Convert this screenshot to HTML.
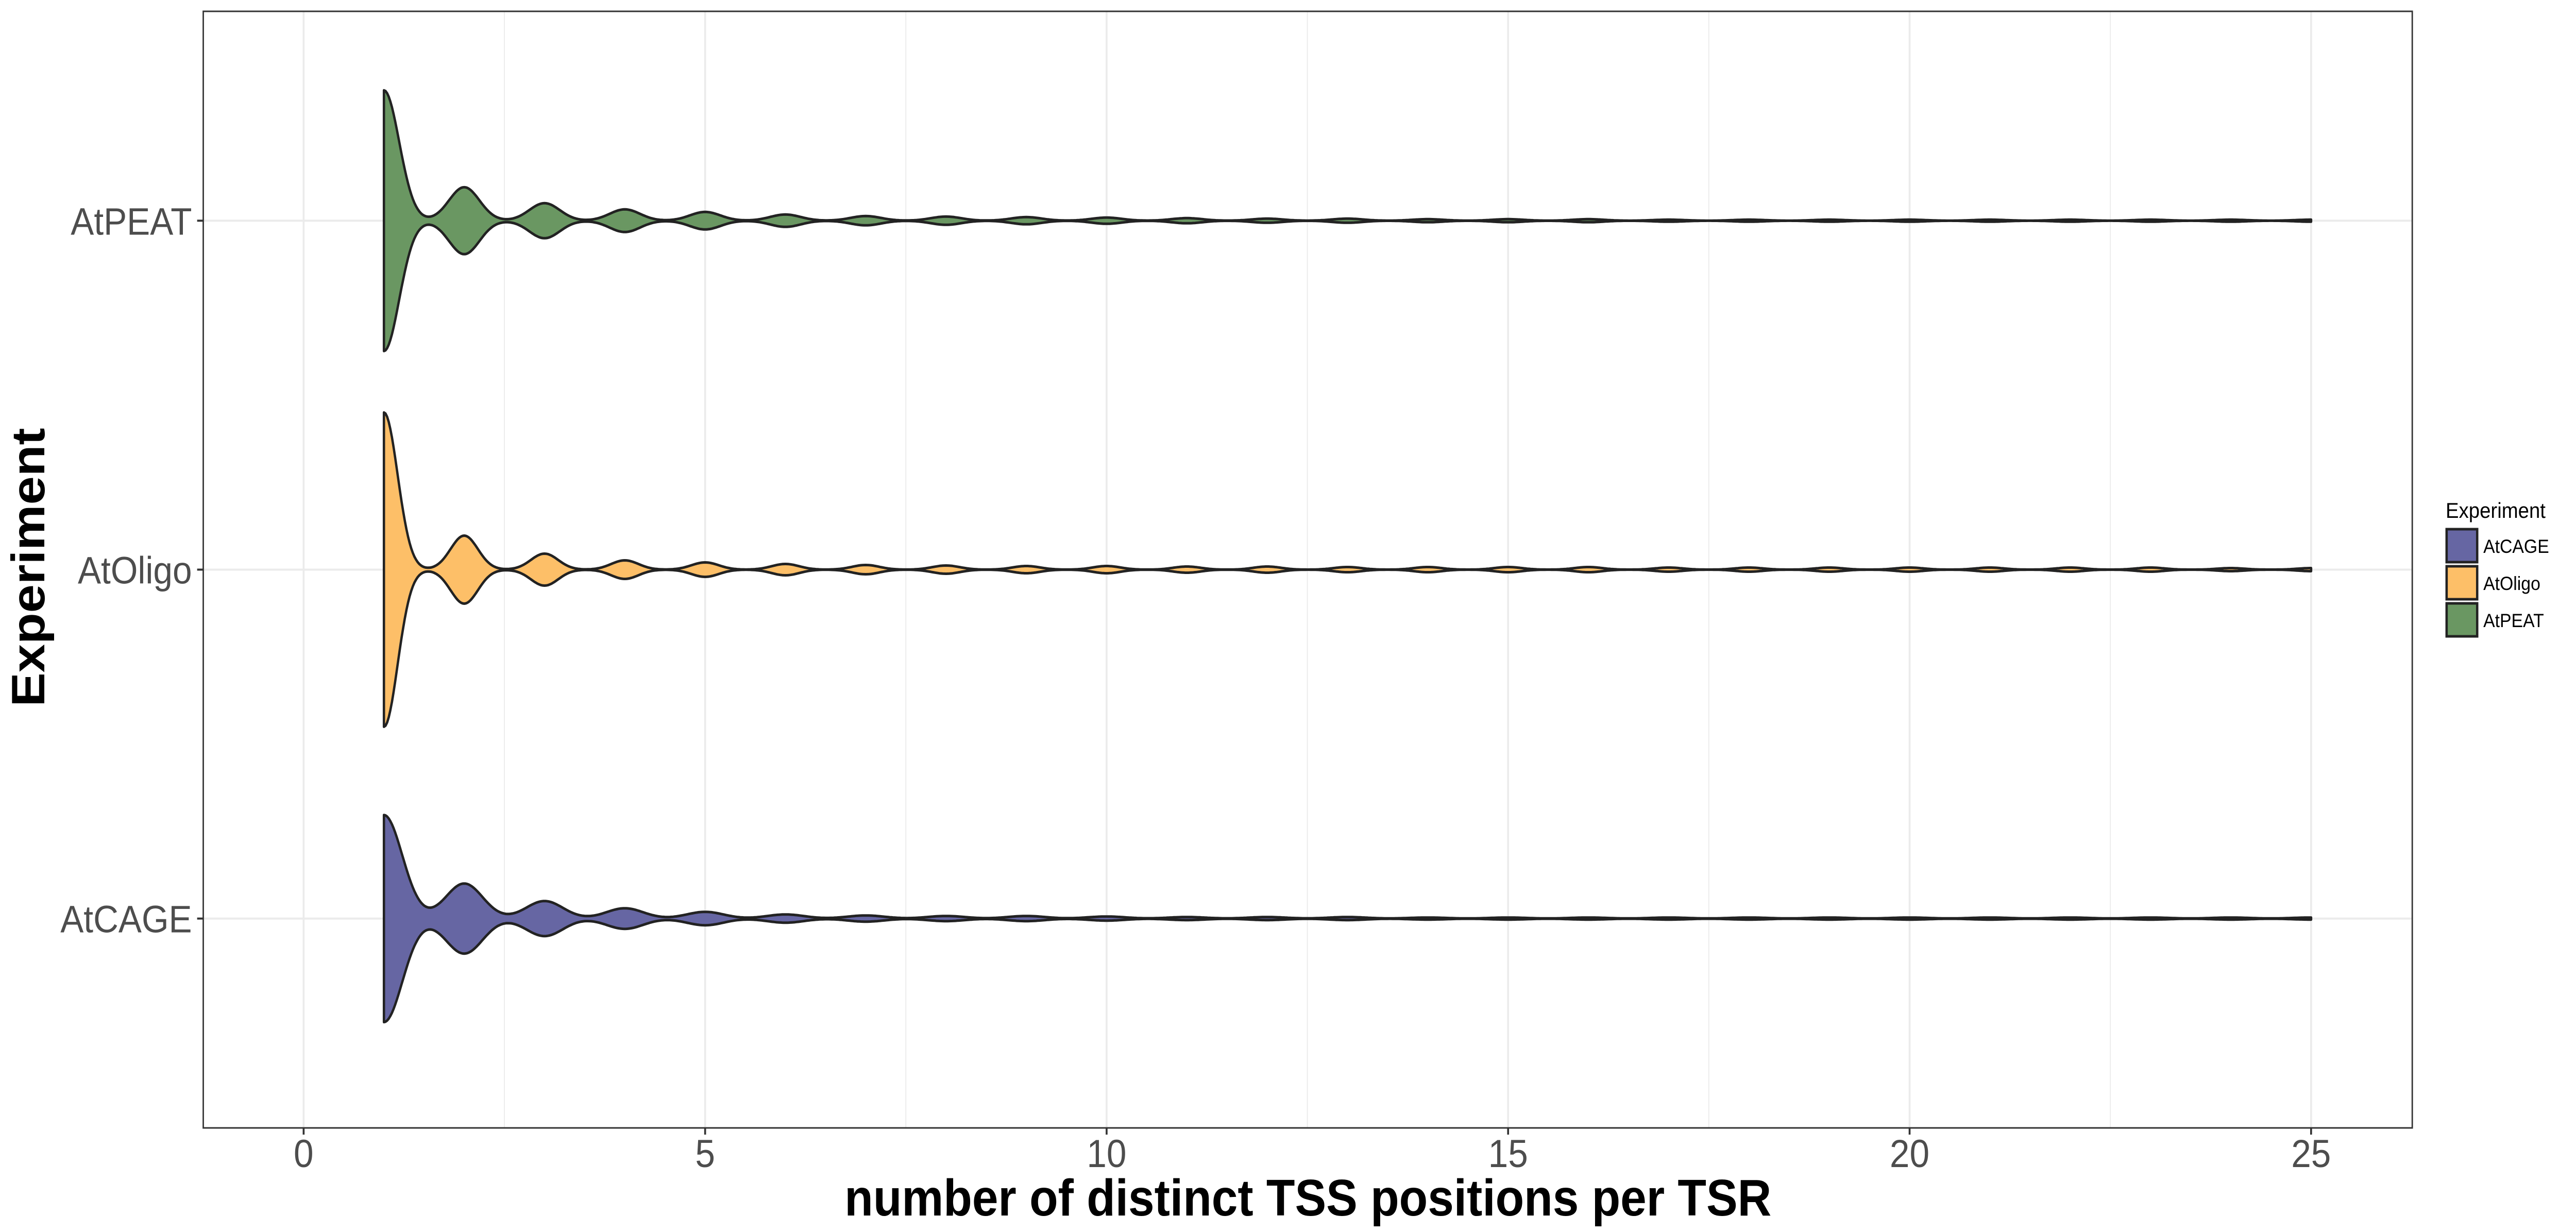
<!DOCTYPE html>
<html><head><meta charset="utf-8"><style>
html,body{margin:0;padding:0;background:#fff;width:100%;height:100%;overflow:hidden;}
svg{display:block;width:100vw;height:100vh;}
text{font-family:"Liberation Sans",Arial,sans-serif;}
</style></head><body>
<svg id="chart" viewBox="0 0 5475 2391" preserveAspectRatio="none" xmlns="http://www.w3.org/2000/svg">
<rect x="0" y="0" width="5475" height="2391" fill="#fff"/>
<g id="grid"></g>
<g id="violins"></g>
<rect x="432" y="22" width="4695" height="2167" fill="none" stroke="#333" stroke-width="3"/>
<g id="axes"></g>
<text x="2780" y="2359" text-anchor="middle" font-size="100" font-weight="bold" textLength="1970" lengthAdjust="spacingAndGlyphs" fill="#000">number of distinct TSS positions per TSR</text>
<text transform="translate(94,1101) rotate(-90)" text-anchor="middle" font-size="100" font-weight="bold" textLength="541" lengthAdjust="spacingAndGlyphs" fill="#000">Experiment</text>
<g id="legend">
<text x="5198" y="1005" font-size="42" fill="#000">Experiment</text>
</g>
</svg>
<script>
const categories = ["AtCAGE", "AtOligo", "AtPEAT"];
const colors = ["#6666A3", "#FDBF68", "#6A9762"];
const xTicks = [0, 5, 10, 15, 20, 25];
const xMinor = [2.5, 7.5, 12.5, 17.5, 22.5];
const positions = [1,2,3,4,5,6,7,8,9,10,11,12,13,14,15,16,17,18,19,20,21,22,23,24,25];
const densCAGE  = [201,68,34,20,13,8,6,5,5,4,3,3,3,2,2,2,2,2,2,2,2,2,2,2,2];
const densOligo = [305,66,31,18,14,11,9,8,7,7,6,6,5,5,5,5,4,4,4,4,4,4,4,3,3];
const densPEAT  = [253,65,34,22,17,12,9,8,7,6,5,4,4,3,3,3,2,2,2,2,2,2,2,2,2];
const bandwidths = [0.23, 0.17, 0.19];
const series = [densCAGE, densOligo, densPEAT];

const NS = "http://www.w3.org/2000/svg";
const PL = 432, PR = 5127, PT = 22, PB = 2189;
const XMIN = -1.25, XMAX = 26.26;
function xs(v){ return PL + (v - XMIN) / (XMAX - XMIN) * (PR - PL); }
function ys(i){
  const lo = 0.4, hi = 3.6, pos = i + 1;
  return PB - (pos - lo) / (hi - lo) * (PB - PT);
}
const maxDens = Math.max(...series.map(s => Math.max(...s)));
const halfMax = 305;
function mk(tag, attrs, parent){
  const e = document.createElementNS(NS, tag);
  for (const k in attrs) e.setAttribute(k, attrs[k]);
  parent.appendChild(e);
  return e;
}
const grid = document.getElementById('grid');
xMinor.forEach(v => {
  const l = mk('line', {x1: xs(v), x2: xs(v), y1: PT, y2: PB, stroke: '#ebebeb', 'stroke-width': 2}, grid);
  
  
});
xTicks.forEach(v => {
  const l = mk('line', {x1: xs(v), x2: xs(v), y1: PT, y2: PB, stroke: '#ebebeb', 'stroke-width': 4}, grid);
  
  
});
categories.forEach((c, i) => {
  const l = mk('line', {x1: PL, x2: PR, y1: ys(i), y2: ys(i), stroke: '#ebebeb', 'stroke-width': 4}, grid);
  
  
});

const vg = document.getElementById('violins');
const lo = positions[0], hi = positions[positions.length - 1];
series.forEach((dens, i) => {
  const bw = bandwidths[i];
  const cy = ys(i);
  const top = [], bot = [];
  const N = 1200;
  for (let k = 0; k <= N; k++) {
    const x = lo + (hi - lo) * k / N;
    let d = 0;
    positions.forEach((p, j) => { d += dens[j] * Math.exp(-((x - p) ** 2) / (2 * bw * bw)); });
    const w = d / maxDens * halfMax;
    top.push(xs(x).toFixed(1) + ',' + (cy - w).toFixed(1));
    bot.push(xs(x).toFixed(1) + ',' + (cy + w).toFixed(1));
  }
  const dPath = 'M' + top.join(' L') + ' L' + bot.reverse().join(' L') + ' Z';
  const p = mk('path', {d: dPath, fill: colors[i], stroke: '#222', 'stroke-width': 5, 'stroke-linejoin': 'round'}, vg);
  
  
});

const ax = document.getElementById('axes');
xTicks.forEach(v => {
  const t = mk('line', {x1: xs(v), x2: xs(v), y1: PB, y2: PB + 13, stroke: '#333', 'stroke-width': 4}, ax);
  
  
  const tx = mk('text', {x: xs(v), y: 2265, 'text-anchor': 'middle', 'font-size': 76, fill: '#4d4d4d'}, ax);
  tx.textContent = String(v);
  
  
});
categories.forEach((c, i) => {
  const t = mk('line', {x1: PL - 13, x2: PL, y1: ys(i), y2: ys(i), stroke: '#333', 'stroke-width': 4}, ax);
  
  
  const tx = mk('text', {x: 408, y: ys(i) + 27, 'text-anchor': 'end', 'font-size': 74, fill: '#4d4d4d'}, ax);
  tx.textContent = c;
  
  
});

const lg = document.getElementById('legend');
categories.forEach((c, i) => {
  const y = 1025 + i * 72;
  const r = mk('rect', {x: 5200, y: y + 2, width: 65, height: 64, fill: colors[i], stroke: '#222', 'stroke-width': 5}, lg);
  
  
  const t = mk('text', {x: 5278, y: y + 48, 'font-size': 37, fill: '#000'}, lg);
  t.textContent = c;
  
  
});
</script>
</body></html>
